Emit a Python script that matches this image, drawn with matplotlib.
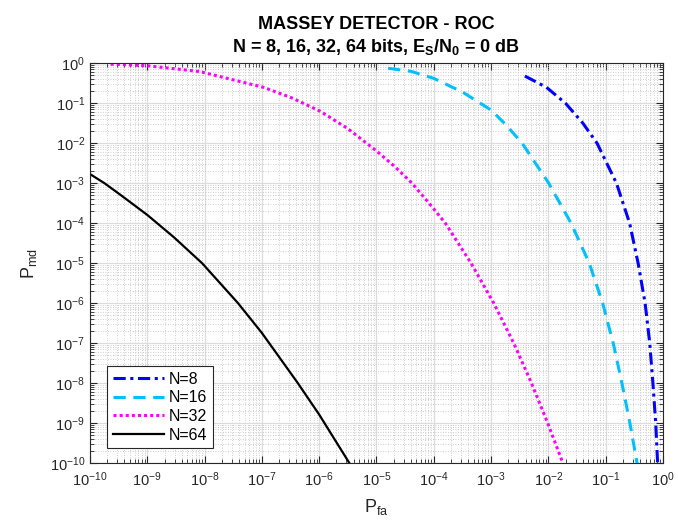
import matplotlib
matplotlib.use("Agg")
import matplotlib.pyplot as plt
from matplotlib.ticker import LogLocator, NullFormatter

plt.rcParams['font.family'] = ['Liberation Sans', 'DejaVu Sans']
plt.rcParams['mathtext.fontset'] = 'custom'
plt.rcParams['mathtext.rm'] = 'Liberation Sans'
plt.rcParams['mathtext.it'] = 'Liberation Sans'
plt.rcParams['mathtext.bf'] = 'Liberation Sans:bold'

# ROC curves: probability of false alarm vs probability of missed detection
pfa_8 = [3.9e-3, 9.3e-3, 2.0e-2, 4.0e-2, 7.1e-2, 0.155, 0.263, 0.37, 0.49, 0.59, 0.67, 0.75, 0.81]
pmd_8 = [0.48, 0.25, 0.1, 3.2e-2, 1.0e-2, 1.0e-3, 1.0e-4, 1.0e-5, 1.0e-6, 1.0e-7, 1.0e-8,
         1.0e-9, 1.0e-10]

pfa_16 = [1.6e-5, 4.0e-5, 1.0e-4, 3.2e-4, 1.0e-3, 1.8e-3, 3.5e-3, 1.02e-2, 2.5e-2, 5.2e-2,
          8.9e-2, 0.136, 0.193, 0.266, 0.355]
pmd_16 = [0.75, 0.63, 0.42, 0.19, 6.8e-2, 2.95e-2, 1.0e-2, 1.0e-3, 1.0e-4, 1.0e-5,
          1.0e-6, 1.0e-7, 1.0e-8, 1.0e-9, 1.0e-10]

pfa_32 = [2.3e-10, 9.8e-10, 8.3e-9, 1.07e-7, 3.2e-7, 1.05e-6, 3.2e-6, 1.02e-5, 2.1e-5, 4.2e-5,
          1.0e-4, 1.6e-4, 4.5e-4, 1.12e-3, 2.5e-3, 5.1e-3, 9.8e-3, 1.8e-2]
pmd_32 = [0.95, 0.87, 0.62, 0.25, 0.14, 6.3e-2, 2.3e-2, 6.3e-3, 2.6e-3, 1.0e-3,
          2.3e-4, 1.0e-4, 1.0e-5, 1.0e-6, 1.0e-7, 1.0e-8, 1.0e-9, 1.0e-10]

pfa_64 = [1.0e-10, 1.8e-10, 3.43e-10, 1.0e-9, 2.92e-9, 9.1e-9, 3.81e-8, 1.0e-7, 4.13e-7,
          1.0e-6, 3.39e-6]
pmd_64 = [1.7e-3, 1.0e-3, 5.1e-4, 1.62e-4, 4.47e-5, 1.0e-5, 1.02e-6, 1.82e-7, 1.07e-8,
          1.66e-9, 1.0e-10]

fig = plt.figure(figsize=(6.78, 5.26), dpi=100)
ax = fig.add_axes([0.1327, 0.1192, 0.845, 0.7605])

ax.loglog(pfa_8, pmd_8, color='#0000ff', lw=2.2, dashes=(4, 1.5, 1, 1.5), label='N=8')
ax.loglog(pfa_16, pmd_16, color='#00bfff', lw=2.2, dashes=(4, 2.5), label='N=16')
ax.loglog(pfa_32, pmd_32, color='#ff00ff', lw=2.2, dashes=(1, 1), label='N=32')
ax.loglog(pfa_64, pmd_64, color='black', lw=1.6, label='N=64')

ax.set_xlim(1e-10, 1)
ax.set_ylim(1e-10, 1)

ax.xaxis.set_major_locator(LogLocator(base=10, numticks=12))
ax.yaxis.set_major_locator(LogLocator(base=10, numticks=12))
ax.xaxis.set_minor_locator(LogLocator(base=10, subs=range(2, 10), numticks=12))
ax.yaxis.set_minor_locator(LogLocator(base=10, subs=range(2, 10), numticks=12))
ax.xaxis.set_minor_formatter(NullFormatter())
ax.yaxis.set_minor_formatter(NullFormatter())

ax.grid(True, which='major', color='#dcdcdc', lw=0.9, ls='-')
ax.grid(True, which='minor', color='#bcbcbc', lw=0.6, ls=(0, (1, 2)))
ax.set_axisbelow(True)

ax.tick_params(which='both', direction='in', top=True, right=True, colors='#262626',
               labelsize=10.5)
ax.tick_params(axis='x', which='major', pad=5)
ax.tick_params(which='major', length=5, width=0.8)
ax.tick_params(which='minor', length=3, width=0.6)
for sp in ax.spines.values():
    sp.set_color('#262626')
    sp.set_linewidth(0.8)

ax.set_xlabel(r'P$_{\mathrm{fa}}$', fontsize=13, color='#262626', labelpad=6)
ax.set_ylabel(r'P$_{\mathrm{md}}$', fontsize=13, color='#262626', labelpad=8)
ax.set_title('MASSEY DETECTOR - ROC\n'
             r'N = 8, 16, 32, 64 bits, E$_\mathbf{S}$/N$_\mathbf{0}$ = 0 dB',
             fontsize=13, fontweight='bold', pad=8, linespacing=1.3)

leg = ax.legend(loc='lower left', fontsize=11.5, handlelength=3.2, handletextpad=0.3,
                labelspacing=0.22, borderpad=0.35, fancybox=False, framealpha=1,
                edgecolor='#262626', bbox_to_anchor=(0.03, 0.038), borderaxespad=0)
leg.get_frame().set_linewidth(0.8)

fig.savefig('out.png', dpi=100)
